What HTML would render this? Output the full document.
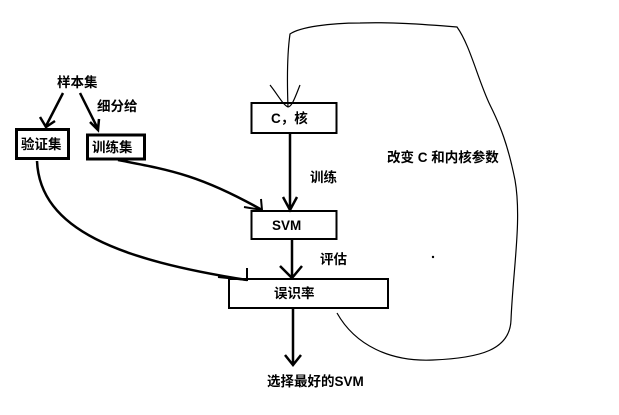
<!DOCTYPE html>
<html><head><meta charset="utf-8"><style>
body{margin:0;background:#fff;}
svg text{font-family:"Liberation Sans","Noto Sans CJK SC",sans-serif;font-weight:bold;font-size:13.5px;fill:#000;}
</style></head><body>
<svg width="619" height="410" viewBox="0 0 619 410" xmlns="http://www.w3.org/2000/svg">
<g fill="none" stroke="#000">
<rect x="16.5" y="129.5" width="52" height="29" stroke-width="3"/>
<rect x="87.5" y="135" width="57" height="24" stroke-width="3"/>
<rect x="251.5" y="103" width="85" height="30" stroke-width="2"/>
<rect x="251.5" y="211" width="85" height="28" stroke-width="2"/>
<rect x="229" y="279" width="159" height="29" stroke-width="2"/>
<path d="M63 93 L46 126 M40 117 L46 127 L55 121" stroke-width="2.5"/>
<path d="M80 93 L98 129 M90 122 L98 130 L99 119" stroke-width="2.5"/>
<path d="M118 160 C170 170 200 175 262 210" stroke-width="2.5"/>
<path d="M244 207 L262 210 L261 199" stroke-width="2"/>
<path d="M37 161 C40 230 120 260 247 280" stroke-width="2.5"/>
<path d="M218 277 L247 280 L247 268" stroke-width="2"/>
<path d="M290 134 L290 210 M283 197 L290 210 L297 197" stroke-width="2.5"/>
<path d="M292 239 L292 278 M280 266 L292 278 L302 266" stroke-width="2.5"/>
<path d="M293 308 L293 365 M285 355 L293 365 L301 355" stroke-width="2.5"/>
<path d="M337 313 C355 345 390 362 433 360 C480 358 510 350 511 320 C513 270 522 220 515 180 C508 145 500 125 490 105 C478 80 470 45 457 27 C420 24 390 22 360 23 C330 23 300 27 290 34 C287 55 287 80 288 107" stroke-width="1.2"/>
<path d="M270 85 C278 95 283 105 288 107 C292 107 296 95 300 85" stroke-width="1.2"/>
</g>
<circle cx="433" cy="257" r="1.2" fill="#000"/>
<text x="57" y="87">样本集</text>
<text x="97" y="111">细分给</text>
<text x="21" y="149">验证集</text>
<text x="92" y="152">训练集</text>
<text x="271" y="123">C，核</text>
<text x="310" y="182">训练</text>
<text x="272" y="230">SVM</text>
<text x="320" y="264">评估</text>
<text x="274" y="298">误识率</text>
<text x="387" y="162">改变 C 和内核参数</text>
<text x="267" y="386">选择最好的SVM</text>
</svg>
</body></html>
